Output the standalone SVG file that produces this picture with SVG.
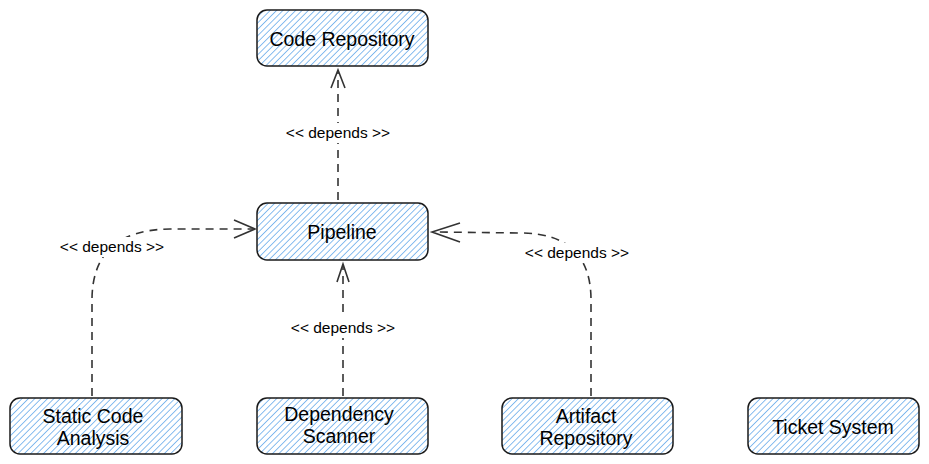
<svg xmlns="http://www.w3.org/2000/svg" width="929" height="464" viewBox="0 0 929 464">
<style>
.box{fill:url(#hatch);stroke:#1a1a1a;stroke-width:1.5}
.lbl{font-family:"Liberation Sans",Arial,sans-serif;font-size:19.5px;fill:#000;text-anchor:middle}
.el{font-family:"Liberation Sans",Arial,sans-serif;font-size:15.5px;fill:#000;text-anchor:middle}
.edge{fill:none;stroke:#333;stroke-width:1.6;stroke-dasharray:8 6}
.head{fill:none;stroke:#333;stroke-width:1.6}
.bg{fill:#fff}
</style>
<defs>
<pattern id="hatch" width="4.5" height="4.5" patternUnits="userSpaceOnUse" patternTransform="rotate(45)">
<rect width="4.5" height="4.5" fill="#ffffff"/>
<line x1="0" y1="0" x2="0" y2="4.5" stroke="#62a8ea" stroke-width="1.5"/>
</pattern>
</defs>
<rect width="929" height="464" fill="#fff"/>
<g id="connectors">
<path class="edge" d="M338,200 L338,72"/>
<path class="head" d="M331,88 L338,70 L345,88"/>
<rect class="bg" x="282" y="123" width="112" height="20"/>
<text class="el" x="338" y="138">&lt;&lt; depends &gt;&gt;</text>
<path class="edge" d="M92,396 L92,300 Q92,230 170,229 L254,229"/>
<path class="head" d="M234,220 L255,229 L234,238"/>
<rect class="bg" x="56" y="237" width="114" height="20"/>
<text class="el" x="112" y="252">&lt;&lt; depends &gt;&gt;</text>
<path class="edge" d="M343,396 L343,266"/>
<path class="head" d="M337,282 L343,264 L349,282"/>
<rect class="bg" x="287" y="318" width="112" height="20"/>
<text class="el" x="343" y="333">&lt;&lt; depends &gt;&gt;</text>
<path class="edge" d="M591,396 L591,300 Q591,233 520,233 L434,232"/>
<path class="head" d="M460,223 L432,232 L460,242"/>
<rect class="bg" x="520" y="243" width="114" height="20"/>
<text class="el" x="577" y="258">&lt;&lt; depends &gt;&gt;</text>
</g>
<g id="code-repository">
<rect class="box" x="257" y="10" width="171" height="56" rx="10"/>
<text class="lbl" x="342" y="46">Code Repository</text>
</g>
<g id="pipeline">
<rect class="box" x="257" y="203" width="171" height="57" rx="10"/>
<text class="lbl" x="342" y="239">Pipeline</text>
</g>
<g id="static-code-analysis">
<rect class="box" x="10" y="398" width="172" height="56" rx="10"/>
<text class="lbl" x="93" y="423">Static Code</text>
<text class="lbl" x="93" y="445">Analysis</text>
</g>
<g id="dependency-scanner">
<rect class="box" x="257" y="398" width="171" height="56" rx="10"/>
<text class="lbl" x="339" y="421">Dependency</text>
<text class="lbl" x="339" y="443">Scanner</text>
</g>
<g id="artifact-repository">
<rect class="box" x="502" y="398" width="171" height="56" rx="10"/>
<text class="lbl" x="586" y="423">Artifact</text>
<text class="lbl" x="586" y="445">Repository</text>
</g>
<g id="ticket-system">
<rect class="box" x="748" y="398" width="171" height="56" rx="10"/>
<text class="lbl" x="833" y="434">Ticket System</text>
</g>
</svg>
